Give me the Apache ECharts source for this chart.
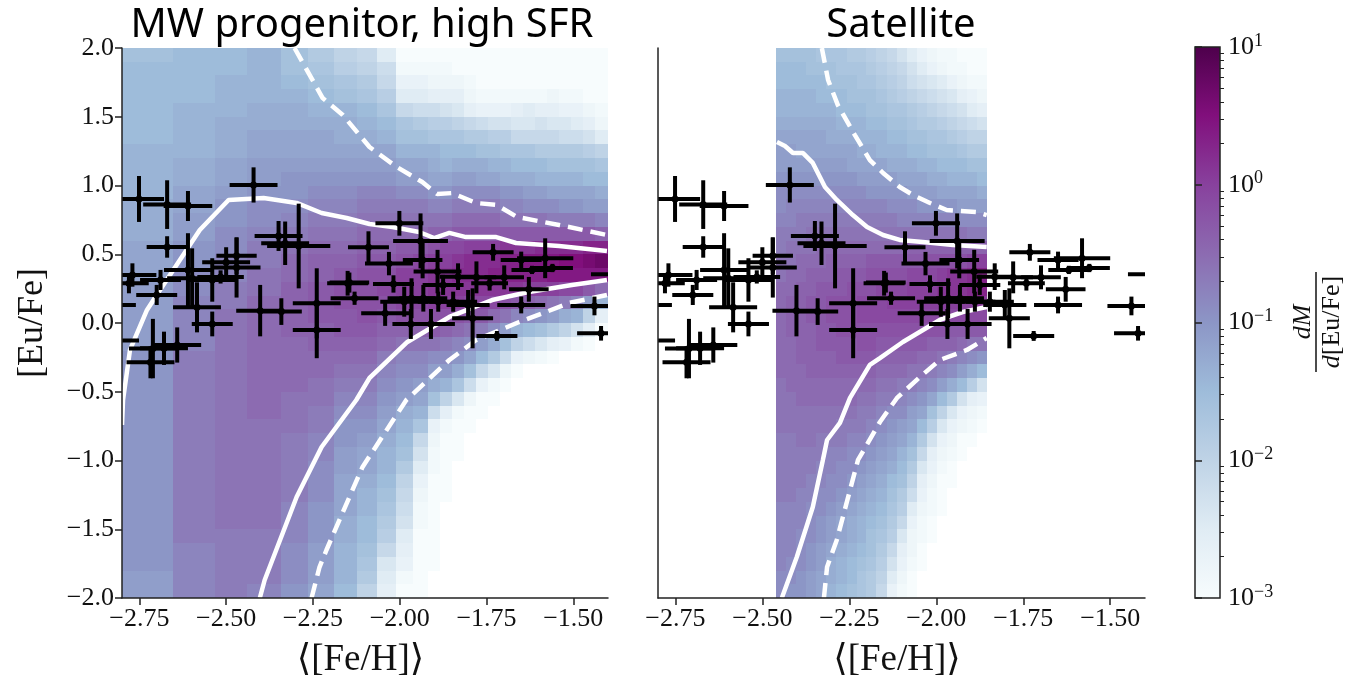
<!DOCTYPE html>
<html>
<head>
<meta charset="utf-8">
<style>html,body{margin:0;background:#fff}#main{width:1372px;height:685px}</style>
<script src="https://cdn.jsdelivr.net/npm/echarts@6/dist/echarts.min.js"></script>
</head>
<body>
<div id="main"></div>
<script>
// colormap, BuPu from low to high
var buPu = ['#f7fcfd','#e0ecf4','#bfd3e6','#9ebcda','#8c96c6','#8c6bb1','#88419d','#810f7c','#4d004b'];

var xTicks = [-2.75,-2.5,-2.25,-2,-1.75,-1.5];
var xTickLabels = ['−2.75','−2.50','−2.25','−2.00','−1.75','−1.50'];
var barMinorTicks = [2,3,4,5,6,7,8,9];

// observed stars: [Fe/H], [Eu/Fe] and their errors
var starX = [-2.001,-1.940,-2.090,-2.031,-1.934,-1.891,-1.832,-1.779,-2.018,-2.150,-2.130,-1.741,-1.699,-1.731,-1.650,-1.581,-1.560,-1.619,-1.628,-1.650,-1.439,-1.420,-1.720,-1.790,-1.803,-1.846,-1.377,-2.042,-1.968,-1.910,-1.987,-1.966,-1.932,-1.875,-1.889,-2.751,-2.670,-2.610,-2.670,-2.421,-2.610,-2.598,-2.584,-2.540,-2.540,-2.500,-2.470,-2.470,-2.516,-2.770,-2.780,-2.830,-2.700,-2.689,-2.711,-2.679,-2.641,-2.718,-2.823,-2.349,-2.330,-2.291,-2.402,-2.341,-2.239,-2.239,-2.145];
var starY = [.725,.597,.551,.432,.458,.374,.337,.332,.284,.289,.180,.289,.332,.514,.458,.471,.400,.386,.245,.131,.124,-.075,-.094,.034,.131,.155,.354,.071,-.007,-.007,.155,.180,.180,.277,.155,.902,.861,.851,.553,1.004,.386,.325,.114,.313,-.007,.442,.490,.403,.335,.349,.289,.131,.204,.313,-.186,-.184,-.160,-.286,-.128,.633,.580,.560,.090,.083,.143,-.050,.294];
var starXerr = [.069,.079,.059,.069,.057,.069,.053,.057,.059,.059,.069,.053,.057,.059,.059,.081,.059,.059,.057,.069,.069,.069,.059,.059,.062,.069,.072,.069,.053,.069,.069,.069,.069,.059,.059,.072,.069,.070,.059,.069,.069,.072,.069,.072,.059,.069,.058,.069,.067,.069,.057,.070,.059,.059,.069,.069,.069,.069,.072,.069,.069,.091,.069,.059,.069,.069,.057];
var starYerr = [.090,.200,.116,.085,.133,.158,.097,.116,.063,.090,.048,.053,.087,.061,.061,.145,.030,.030,.090,.061,.068,.053,.036,.218,.109,.073,.024,.092,.109,.109,.109,.145,.097,.073,.073,.167,.177,.109,.078,.128,.267,.218,.182,.158,.090,.109,.133,.218,.048,.085,.073,.030,.073,.073,.216,.121,.128,.116,.020,.109,.158,.308,.187,.097,.255,.206,.073];

// contour lines, left panel
var leftUpperX = [-2.80,-2.797,-2.777,-2.728,-2.70,-2.576,-2.493,-2.392,-2.297,-2.225,-2.153,-2.087,-2.021,-1.944,-1.901,-1.857,-1.809,-1.722,-1.665,-1.541,-1.403];
var leftUpperY = [-.742,-.56,-.196,.095,.204,.676,.895,.909,.873,.80,.764,.72,.698,.662,.618,.655,.625,.625,.582,.56,.524];
var leftLowerX = [-2.403,-2.389,-2.297,-2.225,-2.125,-2.087,-1.978,-1.857,-1.734,-1.628,-1.504,-1.403];
var leftLowerY = [-2,-1.869,-1.265,-.902,-.56,-.40,-.138,.044,.167,.225,.276,.313];
var leftUpperDashX = [-2.303,-2.222,-2.164,-2.087,-2.009,-1.935,-1.892,-1.849,-1.78,-1.72,-1.662,-1.541,-1.403];
var leftUpperDashY = [2,1.636,1.513,1.28,1.135,1.025,.938,.945,.873,.858,.771,.713,.64];
var leftLowerDashX = [-2.254,-2.231,-2.211,-2.165,-2.107,-1.981,-1.857,-1.78,-1.656,-1.579,-1.513,-1.403];
var leftLowerDashY = [-2,-1.775,-1.651,-1.382,-1.047,-.56,-.269,-.124,.007,.08,.145,.204];

// contour lines, right panel
var rightUpperX = [-2.458,-2.435,-2.412,-2.383,-2.355,-2.32,-2.286,-2.24,-2.199,-2.153,-2.105,-2.039,-1.952,-1.855];
var rightUpperY = [1.316,1.287,1.236,1.236,1.164,.989,.895,.785,.698,.64,.604,.589,.567,.553];
var rightLowerX = [-2.444,-2.401,-2.355,-2.326,-2.314,-2.277,-2.248,-2.191,-2.162,-2.096,-1.99,-1.924,-1.855];
var rightLowerY = [-2,-1.702,-1.338,-.996,-.851,-.727,-.545,-.305,-.255,-.138,.022,.08,.116];
var rightUpperDashX = [-2.329,-2.311,-2.283,-2.234,-2.191,-2.153,-2.105,-2.067,-2.018,-1.97,-1.883,-1.855];
var rightUpperDashY = [2,1.767,1.585,1.367,1.185,1.091,.989,.931,.873,.822,.807,.785];
var rightLowerDashX = [-2.323,-2.314,-2.286,-2.248,-2.225,-2.162,-2.113,-2.047,-1.99,-1.912,-1.855];
var rightLowerDashY = [-2,-1.775,-1.578,-1.215,-.996,-.72,-.545,-.393,-.269,-.196,-.109];

// density grids: log10(dM/d[Eu/Fe]) in tenths of a dex, one list per column, from [Eu/Fe]=-2 upward in 0.1 rows
var o = null;
var leftEdges = [-2.8,-2.653,-2.533,-2.441,-2.343,-2.263,-2.188,-2.122,-2.064,-2.01,-1.961,-1.918,-1.884,-1.849,-1.815,-1.781,-1.747,-1.712,-1.678,-1.644,-1.609,-1.575,-1.541,-1.506,-1.472,-1.438,-1.4];
var leftDensity = [
[-11,-11,-10,-10,-10,-10,-10,-10,-10,-10,-10,-10,-10,-10,-10,-10,-10,-10,-11,-11,-11,-11,-11,-12,-12,-12,-13,-13,-13,-14,-14,-14,-14,-15,-15,-15,-15,-15,-15,-16],
[-8,-8,-8,-8,-7,-7,-7,-7,-7,-7,-7,-7,-7,-7,-7,-7,-7,-7,-8,-8,-8,-8,-9,-9,-10,-10,-11,-11,-12,-12,-13,-13,-14,-14,-14,-14,-15,-15,-15,-15],
[-7,-7,-7,-7,-7,-6,-6,-6,-6,-6,-6,-6,-6,-6,-6,-6,-6,-6,-6,-6,-6,-7,-7,-8,-8,-9,-9,-10,-10,-11,-12,-12,-13,-13,-13,-14,-14,-14,-15,-15],
[-8,-7,-7,-7,-7,-6,-6,-6,-6,-6,-6,-6,-6,-5,-5,-5,-5,-5,-5,-5,-5,-5,-6,-6,-7,-7,-8,-9,-9,-10,-11,-11,-12,-12,-13,-13,-14,-14,-14,-14],
[-10,-9,-9,-9,-8,-8,-8,-7,-7,-7,-7,-7,-6,-6,-6,-5,-5,-5,-5,-4,-4,-4,-4,-5,-5,-6,-7,-8,-9,-10,-10,-11,-12,-12,-13,-13,-14,-15,-16,-16],
[-12,-11,-11,-11,-10,-10,-10,-9,-9,-9,-8,-8,-7,-7,-6,-6,-5,-5,-4,-4,-3,-3,-3,-4,-4,-5,-6,-7,-8,-9,-10,-11,-12,-12,-13,-14,-15,-16,-17,-18],
[-15,-14,-14,-14,-13,-13,-12,-12,-12,-11,-11,-10,-10,-9,-8,-7,-6,-5,-4,-3,-3,-2,-2,-3,-4,-5,-6,-7,-8,-9,-10,-11,-12,-13,-13,-14,-16,-17,-19,-20],
[-20,-18,-17,-16,-15,-15,-14,-14,-13,-12,-12,-11,-10,-9,-8,-7,-6,-5,-4,-3,-2,-2,-2,-2,-3,-4,-5,-6,-7,-8,-10,-11,-12,-13,-14,-15,-17,-18,-20,-21],
[-26,-25,-24,-21,-19,-18,-17,-16,-15,-14,-14,-13,-12,-11,-10,-9,-8,-7,-5,-4,-3,-2,-1,-2,-3,-4,-5,-6,-7,-8,-10,-11,-12,-14,-15,-17,-19,-21,-22,-25],
[-30,-29,-27,-26,-25,-23,-22,-21,-20,-18,-16,-15,-14,-13,-11,-10,-9,-8,-6,-4,-2,-1,0,0,-2,-3,-5,-6,-7,-9,-11,-12,-14,-16,-17,-21,-25,-27,-29,-30],
[-30,-30,-30,-30,-30,-29,-29,-28,-27,-25,-23,-21,-17,-14,-12,-11,-9,-8,-6,-4,-2,-1,0,0,-1,-3,-5,-6,-7,-9,-11,-12,-14,-16,-18,-22,-25,-27,-29,-30],
[o,o,-30,-30,-30,-30,-30,-30,-30,-29,-29,-28,-27,-22,-16,-13,-11,-9,-6,-3,-2,0,1,1,0,-2,-4,-6,-8,-10,-12,-13,-14,-17,-19,-22,-26,-28,-29,-30],
[o,o,o,o,o,o,o,-30,-30,-30,-30,-30,-29,-26,-20,-14,-11,-9,-7,-4,-2,0,1,1,0,-1,-4,-6,-8,-10,-12,-14,-15,-17,-19,-23,-26,-28,-29,-30],
[o,o,o,o,o,o,o,o,o,o,-30,-30,-30,-29,-24,-17,-13,-10,-8,-5,-2,0,1,2,1,-1,-3,-5,-7,-9,-11,-13,-15,-17,-20,-24,-26,-28,-30,-30],
[o,o,o,o,o,o,o,o,o,o,o,o,-30,-30,-28,-22,-16,-12,-9,-6,-3,-1,1,2,2,0,-3,-5,-7,-9,-11,-13,-15,-18,-21,-26,-28,-29,-30,-30],
[o,o,o,o,o,o,o,o,o,o,o,o,o,-30,-30,-27,-21,-15,-11,-7,-3,-1,1,2,2,0,-3,-5,-7,-9,-12,-13,-16,-18,-22,-27,-29,-30,-30,-30],
[o,o,o,o,o,o,o,o,o,o,o,o,o,o,-30,-29,-24,-18,-13,-9,-5,-1,1,3,2,0,-3,-5,-7,-9,-12,-14,-16,-19,-23,-27,-29,-30,-30,-30],
[o,o,o,o,o,o,o,o,o,o,o,o,o,o,o,-30,-28,-22,-16,-11,-6,-2,1,3,3,1,-3,-6,-8,-10,-13,-14,-17,-19,-23,-27,-29,-30,-30,-30],
[o,o,o,o,o,o,o,o,o,o,o,o,o,o,o,o,-30,-27,-20,-14,-8,-3,1,3,3,1,-3,-6,-8,-10,-13,-15,-17,-21,-24,-26,-29,-30,-30,-30],
[o,o,o,o,o,o,o,o,o,o,o,o,o,o,o,o,o,-28,-22,-15,-9,-4,0,3,4,1,-3,-6,-9,-11,-13,-15,-17,-21,-24,-25,-29,-30,-30,-30],
[o,o,o,o,o,o,o,o,o,o,o,o,o,o,o,o,o,-29,-24,-16,-10,-5,0,3,4,2,-3,-6,-9,-11,-14,-15,-18,-21,-23,-26,-29,-30,-30,-30],
[o,o,o,o,o,o,o,o,o,o,o,o,o,o,o,o,o,-30,-26,-18,-11,-6,0,4,4,2,-3,-7,-9,-12,-14,-16,-18,-21,-24,-26,-28,-30,-30,-30],
[o,o,o,o,o,o,o,o,o,o,o,o,o,o,o,o,o,o,-27,-20,-13,-7,-1,4,5,2,-3,-7,-10,-12,-14,-16,-18,-22,-24,-27,-29,-30,-30,-30],
[o,o,o,o,o,o,o,o,o,o,o,o,o,o,o,o,o,o,-29,-23,-14,-8,-1,4,5,2,-3,-7,-10,-12,-14,-16,-18,-22,-25,-27,-29,-30,-30,-30],
[o,o,o,o,o,o,o,o,o,o,o,o,o,o,o,o,o,o,-30,-26,-20,-11,-3,4,6,3,-3,-7,-11,-12,-15,-16,-19,-23,-26,-28,-30,-30,-30,-30],
[o,o,o,o,o,o,o,o,o,o,o,o,o,o,o,o,o,o,o,-30,-26,-14,-5,4,7,3,-4,-8,-11,-13,-15,-17,-20,-25,-28,-29,-30,-30,-30,-30]
];

var rightEdges = [-2.46,-2.431,-2.402,-2.374,-2.345,-2.316,-2.287,-2.258,-2.229,-2.201,-2.172,-2.143,-2.114,-2.085,-2.056,-2.028,-1.999,-1.97,-1.941,-1.912,-1.884,-1.855];
var rightDensity = [
[-9,-9,-8,-8,-8,-8,-8,-7,-7,-7,-7,-7,-6,-6,-6,-6,-5,-5,-5,-5,-5,-5,-5,-6,-6,-7,-7,-8,-9,-9,-10,-11,-11,-12,-13,-14,-14,-15,-15,-16],
[-10,-9,-9,-8,-8,-8,-8,-7,-7,-7,-7,-7,-6,-6,-6,-5,-5,-5,-5,-4,-4,-4,-5,-5,-6,-6,-7,-8,-8,-9,-10,-11,-11,-12,-13,-14,-14,-15,-15,-16],
[-10,-10,-9,-9,-9,-8,-8,-8,-7,-7,-7,-6,-6,-6,-5,-5,-5,-4,-4,-4,-4,-4,-4,-5,-5,-6,-7,-7,-8,-9,-10,-11,-12,-12,-13,-14,-14,-15,-15,-16],
[-11,-11,-10,-10,-9,-9,-9,-8,-8,-7,-7,-6,-6,-6,-5,-5,-4,-4,-4,-4,-3,-3,-4,-4,-5,-6,-6,-7,-8,-9,-10,-11,-12,-12,-13,-14,-14,-15,-16,-16],
[-12,-12,-11,-11,-10,-10,-9,-9,-8,-8,-7,-7,-6,-6,-5,-5,-4,-4,-3,-3,-3,-3,-3,-4,-5,-5,-6,-7,-8,-9,-10,-11,-12,-12,-13,-14,-15,-15,-16,-17],
[-14,-13,-13,-12,-11,-11,-10,-9,-9,-8,-8,-7,-6,-6,-5,-5,-4,-4,-3,-3,-2,-2,-3,-4,-4,-5,-6,-7,-8,-9,-10,-11,-12,-13,-13,-14,-15,-16,-16,-17],
[-15,-14,-14,-13,-12,-12,-11,-10,-9,-9,-8,-7,-7,-6,-5,-5,-4,-3,-3,-2,-2,-2,-3,-3,-4,-5,-6,-7,-8,-9,-10,-11,-12,-13,-14,-15,-15,-16,-17,-17],
[-16,-15,-15,-14,-13,-13,-12,-11,-10,-9,-9,-8,-7,-6,-5,-5,-4,-3,-3,-2,-2,-2,-2,-3,-4,-5,-6,-7,-8,-9,-10,-12,-12,-13,-14,-15,-16,-16,-17,-18],
[-17,-17,-16,-15,-14,-14,-13,-12,-11,-10,-9,-8,-7,-7,-6,-5,-4,-3,-2,-2,-1,-1,-2,-3,-4,-5,-6,-7,-8,-9,-11,-12,-13,-14,-14,-15,-16,-17,-17,-18],
[-18,-18,-17,-16,-16,-15,-14,-13,-12,-11,-10,-9,-8,-7,-6,-5,-4,-3,-2,-2,-1,-1,-2,-2,-3,-5,-6,-7,-8,-10,-11,-12,-13,-14,-15,-16,-16,-17,-18,-19],
[-21,-20,-19,-18,-17,-16,-15,-14,-13,-12,-11,-10,-9,-8,-7,-6,-5,-4,-3,-2,-1,-1,-1,-2,-3,-5,-6,-7,-8,-10,-11,-12,-14,-14,-15,-16,-17,-18,-19,-20],
[-27,-25,-23,-21,-19,-18,-17,-16,-15,-13,-12,-11,-10,-9,-7,-6,-5,-4,-3,-2,-1,0,-1,-2,-3,-5,-6,-7,-9,-10,-11,-13,-14,-15,-16,-17,-18,-19,-20,-21],
[-29,-28,-27,-26,-24,-21,-19,-18,-16,-15,-14,-12,-11,-9,-8,-7,-5,-4,-3,-2,-1,0,-1,-2,-3,-5,-6,-8,-9,-10,-12,-13,-14,-15,-16,-17,-19,-20,-21,-23],
[-30,-30,-29,-28,-28,-27,-25,-22,-20,-18,-16,-14,-12,-11,-9,-7,-6,-4,-3,-2,-1,0,0,-1,-3,-4,-6,-8,-9,-11,-12,-13,-15,-16,-17,-18,-20,-22,-23,-25],
[o,o,-30,-30,-29,-29,-28,-27,-26,-24,-21,-18,-15,-12,-10,-8,-6,-5,-3,-2,-1,0,0,-1,-3,-4,-6,-8,-10,-11,-12,-14,-15,-16,-18,-19,-21,-23,-25,-27],
[o,o,o,o,-30,-30,-29,-29,-28,-27,-26,-23,-19,-16,-12,-9,-7,-5,-4,-2,-1,0,0,-1,-2,-4,-6,-8,-10,-11,-13,-14,-16,-17,-18,-20,-22,-24,-27,-28],
[o,o,o,o,o,o,-30,-30,-30,-29,-28,-27,-24,-20,-15,-11,-8,-6,-4,-2,-1,0,1,0,-2,-4,-6,-8,-10,-12,-13,-15,-16,-17,-19,-21,-23,-25,-28,-29],
[o,o,o,o,o,o,o,o,-30,-30,-29,-28,-27,-24,-18,-13,-9,-7,-4,-3,-1,0,1,1,-2,-4,-6,-8,-10,-12,-14,-15,-16,-18,-20,-22,-24,-27,-29,-29],
[o,o,o,o,o,o,o,o,o,o,-30,-30,-28,-27,-23,-15,-11,-8,-5,-3,-1,0,1,1,-2,-4,-6,-9,-11,-12,-14,-15,-17,-19,-21,-23,-26,-28,-29,-30],
[o,o,o,o,o,o,o,o,o,o,o,-30,-29,-28,-26,-19,-13,-9,-6,-3,-1,0,2,2,-1,-4,-7,-9,-11,-12,-14,-16,-18,-20,-22,-25,-27,-29,-30,-30],
[o,o,o,o,o,o,o,o,o,o,o,o,-30,-29,-27,-23,-15,-10,-6,-3,-1,1,3,3,0,-4,-7,-9,-11,-13,-15,-16,-18,-20,-23,-26,-28,-29,-30,-30]
];

var serif = '"Liberation Serif","DejaVu Serif",serif';
var axisColor = '#222';

function heatCells(edges, columns) {
    var cells = [];
    for (var c = 0; c < columns.length; c++) {
        for (var r = 0; r < columns[c].length; r++) {
            if (columns[c][r] === null) continue;
            cells.push([edges[c], edges[c + 1], -2 + r * 0.1, -2 + (r + 1) * 0.1, columns[c][r] / 10]);
        }
    }
    return cells;
}

function renderCell(params, api) {
    var a = api.coord([api.value(0), api.value(3)]);
    var b = api.coord([api.value(1), api.value(2)]);
    var x = Math.round(a[0]), y = Math.round(a[1]);
    return {
        type: 'rect',
        shape: {x: x, y: y, width: Math.round(b[0]) - x, height: Math.round(b[1]) - y},
        style: {fill: api.visual('color')}
    };
}

function renderStar(params, api) {
    var x = api.value(0), y = api.value(1), xe = api.value(2), ye = api.value(3);
    var l = api.coord([x - xe, y]), r = api.coord([x + xe, y]);
    var t = api.coord([x, y + ye]), b = api.coord([x, y - ye]);
    var c = api.coord([x, y]);
    var lineStyle = {stroke: '#000', lineWidth: 4};
    return {
        type: 'group',
        children: [
            {type: 'line', shape: {x1: l[0], y1: l[1], x2: r[0], y2: r[1]}, style: lineStyle},
            {type: 'line', shape: {x1: t[0], y1: t[1], x2: b[0], y2: b[1]}, style: lineStyle},
            {type: 'circle', shape: {cx: c[0], cy: c[1], r: 3.5}, style: {fill: '#000'}}
        ]
    };
}

function renderBar(params, api) {
    var a = api.coord([0, 1]);
    var b = api.coord([1, -3]);
    var stops = buPu.map(function (color, i) {
        return {offset: 1 - i / (buPu.length - 1), color: color};
    });
    return {
        type: 'rect',
        shape: {x: a[0], y: a[1], width: b[0] - a[0], height: b[1] - a[1]},
        style: {fill: new echarts.graphic.LinearGradient(0, 0, 0, 1, stops), stroke: axisColor, lineWidth: 1.5}
    };
}

function zip(xs, ys) {
    return xs.map(function (x, i) { return [x, ys[i]]; });
}

function contour(panel, xs, ys, dashed) {
    return {
        type: 'line',
        xAxisIndex: panel,
        yAxisIndex: panel,
        data: zip(xs, ys),
        showSymbol: false,
        silent: true,
        z: 3,
        lineStyle: {color: '#fff', width: 4.5, type: dashed ? [15, 8] : 'solid'}
    };
}

function stars(panel) {
    return {
        type: 'custom',
        xAxisIndex: panel,
        yAxisIndex: panel,
        clip: true,
        z: 4,
        encode: {x: 0, y: 1},
        data: starX.map(function (x, i) { return [x, starY[i], starXerr[i], starYerr[i]]; }),
        renderItem: renderStar
    };
}

function heat(panel, edges, columns) {
    return {
        type: 'custom',
        xAxisIndex: panel,
        yAxisIndex: panel,
        clip: true,
        z: 2,
        encode: {x: 0, y: 2},
        data: heatCells(edges, columns),
        renderItem: renderCell
    };
}

function xAxisFor(panel) {
    return {
        type: 'value',
        gridIndex: panel,
        min: -2.8,
        max: -1.4,
        splitLine: {show: false},
        axisLine: {onZero: false, lineStyle: {color: axisColor, width: 1.5}},
        axisTick: {length: 7, customValues: xTicks, lineStyle: {color: axisColor, width: 1.5}},
        axisLabel: {
            customValues: xTicks,
            fontFamily: serif,
            fontSize: 26,
            color: '#111',
            margin: 8,
            formatter: function (v) { return xTickLabels[xTicks.indexOf(v)]; }
        },
        name: '⟨[Fe/H]⟩',
        nameLocation: 'middle',
        nameGap: 44,
        nameTextStyle: {fontFamily: serif, fontSize: 37, color: '#111', padding: [0, 9, 0, 0]},
        z: 5
    };
}

var titleStyle = {fontFamily: '"Noto Sans"', fontWeight: 'normal', fontSize: 40, color: '#000'};

var myChart = echarts.init(document.getElementById('main'), null, {renderer: 'canvas'});
myChart.setOption({
    animation: false,
    backgroundColor: '#fff',
    title: [
        {text: 'MW progenitor, high SFR', left: 357, top: 1, textAlign: 'center', textStyle: titleStyle},
        {text: 'Satellite', left: 896, top: 1, textAlign: 'center', textStyle: titleStyle}
    ],
    grid: [
        {left: 122, top: 48, width: 486, height: 550},
        {left: 658, top: 48, width: 487, height: 550},
        {left: 1195, top: 47, width: 25, height: 551}
    ],
    xAxis: [
        xAxisFor(0),
        xAxisFor(1),
        {type: 'value', gridIndex: 2, min: 0, max: 1, show: false}
    ],
    yAxis: [
        {
            type: 'value',
            gridIndex: 0,
            min: -2,
            max: 2,
            interval: 0.5,
            splitLine: {show: false},
            axisLine: {onZero: false, lineStyle: {color: axisColor, width: 1.5}},
            axisTick: {length: 7, lineStyle: {color: axisColor, width: 1.5}},
            axisLabel: {
                fontFamily: serif,
                fontSize: 26,
                color: '#111',
                margin: 8,
                formatter: function (v) { return v.toFixed(1).replace('-', '−'); }
            },
            name: '[Eu/Fe]',
            nameLocation: 'middle',
            nameRotate: 90,
            nameGap: 71,
            nameTextStyle: {fontFamily: serif, fontSize: 36, color: '#111'},
            z: 5
        },
        {
            type: 'value',
            gridIndex: 1,
            min: -2,
            max: 2,
            interval: 0.5,
            splitLine: {show: false},
            axisLine: {onZero: false, lineStyle: {color: axisColor, width: 1.5}},
            axisTick: {show: false},
            axisLabel: {show: false},
            z: 5
        },
        {
            type: 'value',
            gridIndex: 2,
            position: 'right',
            min: -3,
            max: 1,
            interval: 1,
            splitLine: {show: false},
            axisLine: {show: false},
            axisTick: {length: 7, lineStyle: {color: axisColor, width: 1.5}},
            axisLabel: {
                fontFamily: serif,
                fontSize: 26,
                color: '#111',
                margin: 8,
                formatter: function (v) { return '{b|10}{s|' + String(v).replace('-', '−') + '}'; },
                rich: {
                    b: {fontFamily: serif, fontSize: 26, lineHeight: 30, color: '#111'},
                    s: {fontFamily: serif, fontSize: 18, lineHeight: 30, verticalAlign: 'top', color: '#111'}
                }
            },
            z: 5
        },
        {
            // minor ticks of the colour bar
            type: 'value',
            gridIndex: 2,
            position: 'right',
            min: -3,
            max: 1,
            splitLine: {show: false},
            axisLine: {show: false},
            axisLabel: {show: false},
            axisTick: {
                length: 4,
                lineStyle: {color: axisColor, width: 1},
                customValues: [-3, -2, -1, 0].reduce(function (ticks, d) {
                    return ticks.concat(barMinorTicks.map(function (m) { return d + Math.log10(m); }));
                }, [])
            },
            z: 5
        }
    ],
    visualMap: {
        show: false,
        type: 'continuous',
        seriesIndex: [0, 1],
        dimension: 4,
        min: -3,
        max: 1,
        inRange: {color: buPu}
    },
    series: [
        heat(0, leftEdges, leftDensity),
        heat(1, rightEdges, rightDensity),
        contour(0, leftUpperX, leftUpperY, false),
        contour(0, leftLowerX, leftLowerY, false),
        contour(0, leftUpperDashX, leftUpperDashY, true),
        contour(0, leftLowerDashX, leftLowerDashY, true),
        contour(1, rightUpperX, rightUpperY, false),
        contour(1, rightLowerX, rightLowerY, false),
        contour(1, rightUpperDashX, rightUpperDashY, true),
        contour(1, rightLowerDashX, rightLowerDashY, true),
        stars(0),
        stars(1),
        {
            type: 'custom',
            xAxisIndex: 2,
            yAxisIndex: 2,
            clip: false,
            z: 2,
            data: [[0, 1]],
            renderItem: renderBar
        }
    ],
    graphic: [
        {
            type: 'text',
            x: 1303,
            y: 322,
            rotation: Math.PI / 2,
            style: {text: 'dM', font: 'italic 26px ' + serif, fill: '#111', align: 'center', verticalAlign: 'middle'}
        },
        {
            type: 'line',
            shape: {x1: 1316, y1: 272, x2: 1316, y2: 372},
            style: {stroke: '#111', lineWidth: 1.5}
        },
        {
            type: 'text',
            x: 1332,
            y: 322,
            rotation: Math.PI / 2,
            style: {
                text: '{i|d}{n|[Eu/Fe]}',
                align: 'center',
                verticalAlign: 'middle',
                rich: {
                    i: {fontFamily: serif, fontStyle: 'italic', fontSize: 26, fill: '#111'},
                    n: {fontFamily: serif, fontSize: 26, fill: '#111'}
                }
            }
        }
    ]
});
</script>
</body>
</html>
